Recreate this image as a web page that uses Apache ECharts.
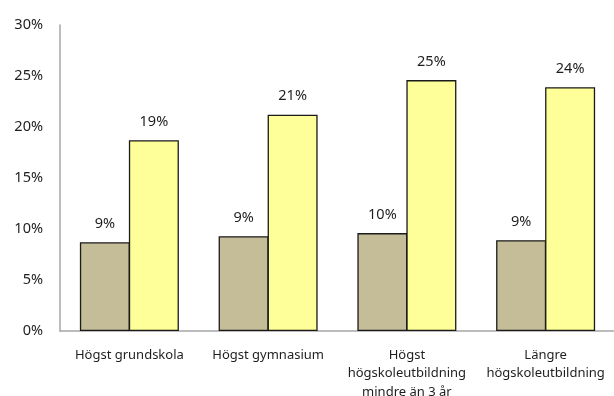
<!DOCTYPE html>
<html>
<head>
<meta charset="utf-8">
<script src="https://cdn.jsdelivr.net/npm/echarts@6/dist/echarts.min.js"></script>
<style>
  html, body { margin: 0; padding: 0; background: #fff; }
  #chart { width: 614px; height: 396px; }
</style>
</head>
<body>
<div id="chart"></div>
<script>
// Education levels along the x axis
const categories = [
  'Högst grundskola',
  'Högst gymnasium',
  'Högst\nhögskoleutbildning\nmindre än 3 år',
  'Längre\nhögskoleutbildning'
];
// Share per group (percent)
const seriesA = [8.7, 9.3, 9.6, 8.9];
const seriesB = [18.7, 21.2, 24.6, 23.9];
// Y axis range and step (percent)
const yMin = 0, yMax = 30, yStep = 5;

const font = '"Noto Sans", "Open Sans", sans-serif';
const textColor = '#1e1e1e';
const chart = echarts.init(document.getElementById('chart'), null, { renderer: 'canvas' });

const labelCfg = {
  show: true,
  position: 'top',
  distance: 11,
  color: textColor,
  fontFamily: font,
  fontSize: 14.5,
  formatter: p => Math.round(p.value) + '%'
};

chart.setOption({
  animation: false,
  backgroundColor: '#fff',
  grid: {
    left: 60, top: 25, width: 555, height: 306,
    containLabel: false,
    outerBoundsMode: 'none'
  },
  xAxis: {
    type: 'category',
    data: categories,
    axisLine: { lineStyle: { color: '#a6a6a6', width: 1.5 } },
    axisTick: { show: false },
    axisLabel: {
      interval: 0,
      margin: 15,
      color: textColor,
      fontFamily: font,
      fontSize: 13,
      lineHeight: 18.5,
      align: 'center'
    }
  },
  yAxis: {
    type: 'value',
    min: yMin,
    max: yMax,
    interval: yStep,
    axisLine: { show: true, lineStyle: { color: '#a6a6a6', width: 1.5 } },
    axisTick: { show: false },
    splitLine: { show: false },
    axisLabel: {
      margin: 17,
      color: textColor,
      fontFamily: font,
      fontSize: 14.5,
      formatter: v => v + '%'
    }
  },
  series: [
    {
      type: 'bar',
      data: seriesA,
      barWidth: 50,
      barGap: '-2%',
      itemStyle: { color: '#c4bd97', borderColor: '#1a1a1a', borderWidth: 1.3 },
      label: labelCfg
    },
    {
      type: 'bar',
      data: seriesB,
      barWidth: 50,
      itemStyle: { color: '#ffff99', borderColor: '#1a1a1a', borderWidth: 1.3 },
      label: labelCfg
    }
  ]
});
</script>
</body>
</html>
